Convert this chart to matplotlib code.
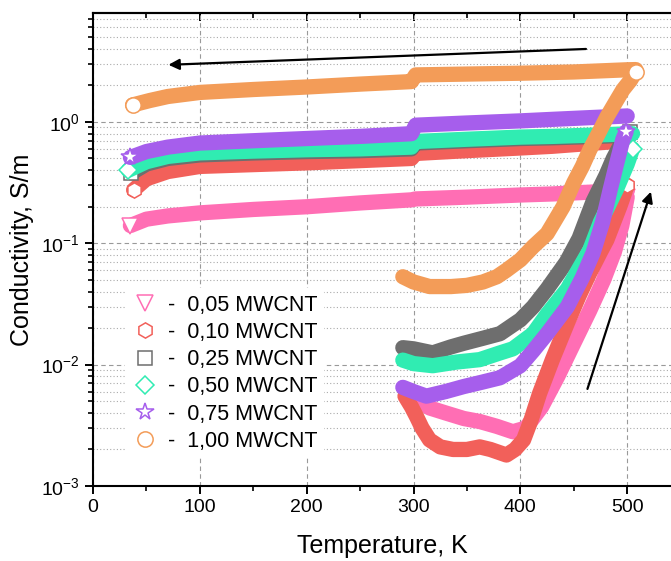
import matplotlib
matplotlib.use("Agg")
import matplotlib.pyplot as plt
from matplotlib.ticker import MultipleLocator, LogLocator, NullFormatter

plt.rcParams['font.family'] = ['Liberation Sans', 'DejaVu Sans']
plt.rcParams['mathtext.fontset'] = 'custom'
plt.rcParams['mathtext.rm'] = 'Liberation Sans'
plt.rcParams['mathtext.default'] = 'regular'

# values: temperature in K, conductivity in S/m
# heating runs go up from ~290 K, cooling runs come back down to ~35 K

labels = ['-  0,05 MWCNT', '-  0,10 MWCNT', '-  0,25 MWCNT',
          '-  0,50 MWCNT', '-  0,75 MWCNT', '-  1,00 MWCNT']
colors = ['#FF6EB4', '#F2605A', '#6E6E6E', '#30ECB2', '#A65EEC', '#F39C58']
markers = ['v', 'h', 's', 'D', '*', 'o']
marker_sizes = [11, 11, 10, 9, 13, 11]

# 0,05 MWCNT
t_heat_005 = [294, 302, 315, 330, 347, 362, 378, 393, 405, 420, 435, 450, 465, 478, 488, 495, 500]
s_heat_005 = [0.0062, 0.0052, 0.0044, 0.0040, 0.0036, 0.0034, 0.0031, 0.0028, 0.0030, 0.0045,
              0.0080, 0.015, 0.028, 0.050, 0.085, 0.14, 0.24]
t_cool_005 = [500, 470, 430, 400, 350, 302, 298, 250, 200, 150, 100, 70, 50, 35]
s_cool_005 = [0.27, 0.265, 0.255, 0.25, 0.24, 0.232, 0.228, 0.215, 0.20, 0.19, 0.178, 0.168, 0.158, 0.140]

# 0,10 MWCNT
t_heat_010 = [292, 298, 303, 308, 315, 325, 337, 350, 362, 372, 387, 395, 403, 410, 418, 430,
              444, 455, 465, 475, 481, 493, 500]
s_heat_010 = [0.0055, 0.0045, 0.0037, 0.0030, 0.0024, 0.0021, 0.0020, 0.0020, 0.0021, 0.0020,
              0.0018, 0.0020, 0.0024, 0.0035, 0.0058, 0.011, 0.022, 0.037, 0.057, 0.085, 0.107,
              0.20, 0.30]
t_cool_010 = [500, 470, 430, 400, 350, 302, 298, 250, 200, 150, 100, 70, 50, 38]
s_cool_010 = [0.70, 0.67, 0.63, 0.61, 0.58, 0.55, 0.50, 0.48, 0.46, 0.445, 0.43, 0.39, 0.34, 0.275]

# 0,25 MWCNT (cooling run sits just under the 0,50 one)
t_heat_025 = [290, 300, 318, 335, 347, 365, 381, 400, 412, 425, 443, 455, 468, 480, 487, 495, 503]
s_heat_025 = [0.0138, 0.0135, 0.0125, 0.0140, 0.0150, 0.0165, 0.018, 0.0234, 0.030, 0.042,
              0.070, 0.11, 0.22, 0.36, 0.50, 0.68, 0.82]
t_cool_025 = [503, 470, 430, 400, 350, 302, 298, 250, 200, 150, 100, 70, 50, 36]
s_cool_025 = [0.78, 0.76, 0.74, 0.73, 0.70, 0.67, 0.60, 0.58, 0.57, 0.555, 0.535, 0.50, 0.45, 0.38]

# 0,50 MWCNT
t_heat_050 = [290, 300, 318, 340, 362, 381, 393, 412, 425, 444, 455, 465, 475, 490, 500, 505]
s_heat_050 = [0.0109, 0.0102, 0.0098, 0.0105, 0.011, 0.0125, 0.0135, 0.018, 0.026, 0.042,
              0.062, 0.088, 0.15, 0.28, 0.45, 0.60]
t_cool_050 = [505, 470, 430, 400, 350, 302, 298, 250, 200, 150, 100, 70, 50, 33]
s_cool_050 = [0.80, 0.78, 0.76, 0.75, 0.72, 0.69, 0.62, 0.60, 0.59, 0.575, 0.556, 0.52, 0.47, 0.40]

# 0,75 MWCNT
t_heat_075 = [290, 300, 312, 330, 347, 365, 381, 400, 412, 425, 444, 458, 468, 477, 484, 490, 496, 499]
s_heat_075 = [0.0065, 0.0060, 0.0055, 0.0060, 0.0066, 0.0072, 0.0078, 0.0098, 0.013, 0.018,
              0.030, 0.052, 0.083, 0.15, 0.275, 0.45, 0.72, 0.83]
t_cool_075 = [500, 470, 430, 400, 350, 302, 298, 250, 200, 150, 100, 70, 50, 35]
s_cool_075 = [1.12, 1.09, 1.05, 1.02, 0.98, 0.94, 0.80, 0.76, 0.73, 0.70, 0.67, 0.62, 0.57, 0.51]

# 1,00 MWCNT
t_heat_100 = [290, 300, 315, 335, 350, 365, 378, 387, 400, 412, 425, 431, 440, 450, 458, 465,
              473, 481, 490, 496, 503, 508]
s_heat_100 = [0.053, 0.048, 0.044, 0.044, 0.045, 0.048, 0.053, 0.060, 0.073, 0.094, 0.12, 0.147,
              0.20, 0.316, 0.43, 0.59, 0.80, 1.10, 1.50, 1.84, 2.20, 2.60]
t_cool_100 = [508, 500, 450, 400, 350, 302, 298, 250, 200, 150, 100, 70, 53, 37]
s_cool_100 = [2.70, 2.69, 2.58, 2.52, 2.48, 2.44, 2.15, 2.05, 1.94, 1.85, 1.75, 1.62, 1.50, 1.38]

heat_t = [t_heat_005, t_heat_010, t_heat_025, t_heat_050, t_heat_075, t_heat_100]
heat_s = [s_heat_005, s_heat_010, s_heat_025, s_heat_050, s_heat_075, s_heat_100]
cool_t = [t_cool_005, t_cool_010, t_cool_025, t_cool_050, t_cool_075, t_cool_100]
cool_s = [s_cool_005, s_cool_010, s_cool_025, s_cool_050, s_cool_075, s_cool_100]

fig = plt.figure(figsize=(6.71, 5.61), dpi=100)
ax = fig.add_axes([93 / 671, 1 - 486 / 561, 578 / 671, 473 / 561])

for i in range(6):
    c = colors[i]
    # dense overlapping markers in the original look like a thick band
    ax.plot(heat_t[i], heat_s[i], color=c, lw=11, solid_capstyle='round', solid_joinstyle='round')
    ax.plot(cool_t[i], cool_s[i], color=c, lw=11, solid_capstyle='round', solid_joinstyle='round')
    ax.plot([heat_t[i][-1], cool_t[i][-1]], [heat_s[i][-1], cool_s[i][-1]], ls='none',
            marker=markers[i], ms=marker_sizes[i], mfc='white', mec=c, mew=1.1, label=labels[i])

ax.set_yscale('log')
ax.set_xlim(0, 541)
ax.set_ylim(1e-3, 7.9)

ax.xaxis.set_major_locator(MultipleLocator(100))
ax.xaxis.set_minor_locator(MultipleLocator(50))
ax.yaxis.set_major_locator(LogLocator(base=10))
ax.yaxis.set_minor_locator(LogLocator(base=10, subs=range(2, 10)))
ax.yaxis.set_minor_formatter(NullFormatter())

ax.grid(which='major', axis='both', ls=(0, (4, 3)), color='#999999', lw=0.8)
ax.grid(which='minor', axis='y', ls=(0, (1, 2)), color='#aaaaaa', lw=0.8)
ax.set_axisbelow(True)

ax.spines['right'].set_visible(False)
for s in ['left', 'bottom', 'top']:
    ax.spines[s].set_linewidth(1.5)
ax.tick_params(which='major', direction='out', length=6, width=1.4, labelsize=14, top=False, right=False)
ax.tick_params(which='minor', direction='out', length=3.5, width=1.2, top=False, right=False)

# top axis has inward ticks only
secax = ax.secondary_xaxis('top')
secax.xaxis.set_major_locator(MultipleLocator(100))
secax.xaxis.set_minor_locator(MultipleLocator(50))
secax.tick_params(which='major', direction='in', length=6, width=1.4, labeltop=False)
secax.tick_params(which='minor', direction='in', length=3.5, width=1.2)
secax.spines['top'].set_linewidth(1.5)

ax.set_xlabel("Temperature, K", fontsize=18, labelpad=13)
ax.set_ylabel("Conductivity, S/m", fontsize=18, labelpad=5)

# arrows showing heating / cooling direction
ax.annotate('', xy=(68, 2.95), xytext=(464, 4.0),
            arrowprops=dict(arrowstyle='-|>', color='black', lw=1.6, mutation_scale=16))
ax.annotate('', xy=(523, 0.28), xytext=(462, 0.006),
            arrowprops=dict(arrowstyle='-|>', color='black', lw=1.6, mutation_scale=16))

leg = ax.legend(loc='upper left', bbox_to_anchor=(0.056, 0.418), numpoints=1, fontsize=15.5,
                frameon=True, facecolor='white', edgecolor='none', framealpha=1,
                borderaxespad=0, borderpad=0.3, handlelength=1.2, handletextpad=0.5,
                labelspacing=0.29)

plt.savefig("out.png", dpi=100)
